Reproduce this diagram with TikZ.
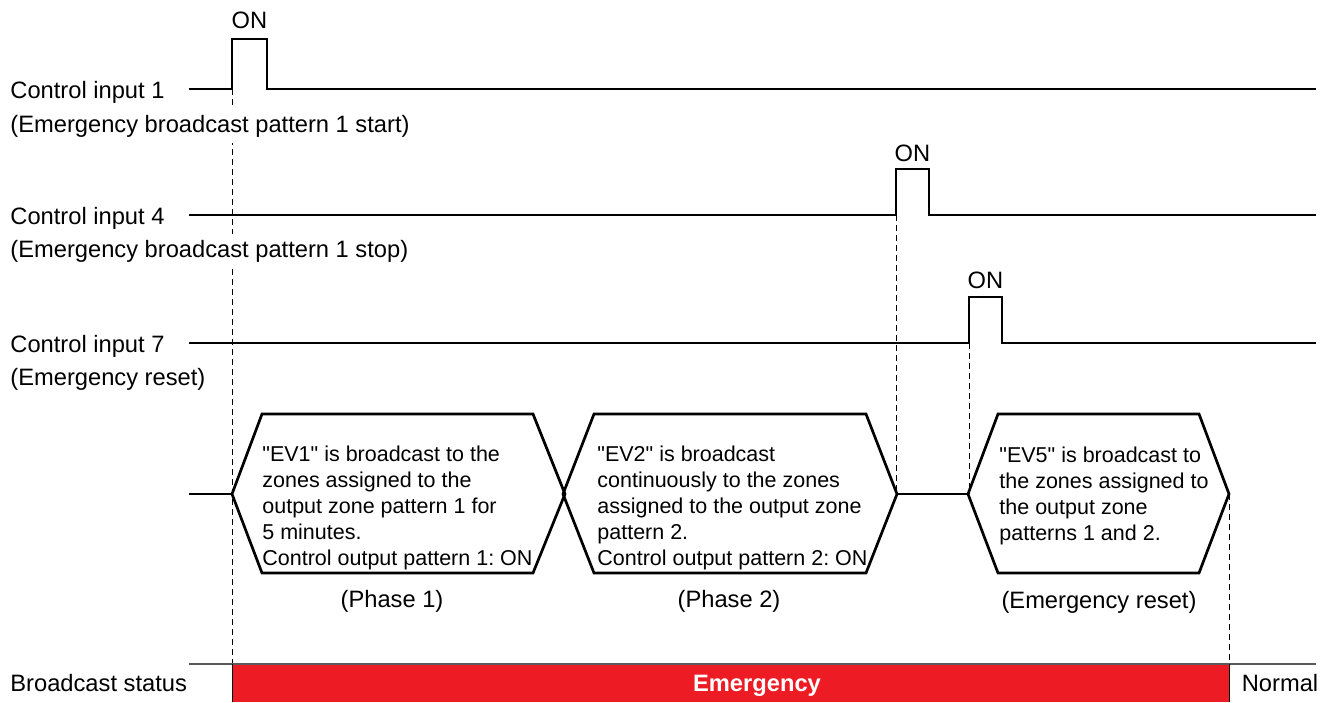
\documentclass[tikz,border=0pt]{standalone}
\usepackage{fontspec}
\setmainfont{Liberation Sans}[Ligatures=TeXOff]
\usepackage{xcolor}
\usetikzlibrary{positioning}
\definecolor{AlarmRed}{RGB}{237,28,36}
\definecolor{RuleGray}{RGB}{90,90,90}
\frenchspacing

\begin{document}
\begin{tikzpicture}[x=0.5pt, y=-0.5pt,
	signal/.style={line width=1.35pt, line join=miter},
	guide/.style={line width=0.5pt, dash pattern=on 3pt off 2pt},
	signame/.style={anchor=base west, inner xsep=0pt, inner ysep=3pt, fill=white, font=\fontsize{11.85}{14}\selectfont},
	onlabel/.style={anchor=base, inner sep=0pt, font=\fontsize{11.85}{14}\selectfont},
	phasetext/.style={anchor=north west, inner sep=0pt, align=left, font=\fontsize{10.75}{13}\selectfont},
	phasename/.style={anchor=base, inner sep=0pt, font=\fontsize{11.85}{14}\selectfont}]
	\useasboundingbox (0,0) rectangle (1333,702);
	\pgfmathsetmacro{\yA}{89}
	\pgfmathsetmacro{\yB}{215}
	\pgfmathsetmacro{\yC}{343}
	\pgfmathsetmacro{\yH}{494}
	\pgfmathsetmacro{\yT}{414}
	\pgfmathsetmacro{\yD}{573}
	\pgfmathsetmacro{\yS}{664}
	
	% pulse edges
	\coordinate (A1) at (232,\yA);
	\coordinate (A2) at (267,\yA);
	\coordinate (B1) at (896,\yB);
	\coordinate (B2) at (929,\yB);
	\coordinate (C1) at (969,\yC);
	\coordinate (C2) at (1002,\yC);
	
	% guide lines
	\draw[guide] (A1) -- (232,\yS);
	\draw[guide] (B1) -- (896,\yH);
	\draw[guide] (C1) -- (969,\yH);
	\draw[guide] (1229,\yH) -- (1229,\yS);
	
	% signal names
	\node[signame] (in1) at (10,98) {Control input 1};
	\node[signame] (in1x) at (10,132) {(Emergency broadcast pattern 1 start)};
	\node[signame] (in4) at (10,224) {Control input 4};
	\node[signame] (in4x) at (10,257) {(Emergency broadcast pattern 1 stop)};
	\node[signame] (in7) at (10,352) {Control input 7};
	\node[signame] (in7x) at (10,385) {(Emergency reset)};
	
	% control inputs
	\draw[signal] (189,\yA) -- (A1) -- (232,39) -- (267,39) -- (A2) -- (1316,\yA);
	\draw[signal] (189,\yB) -- (B1) -- (896,169) -- (929,169) -- (B2) -- (1316,\yB);
	\draw[signal] (189,\yC) -- (C1) -- (969,297) -- (1002,297) -- (C2) -- (1316,\yC);
	\node[onlabel] (on1) at (249.5,28) {ON};
	\node[onlabel] (on4) at (912.5,161) {ON};
	\node[onlabel] (on7) at (985.5,288) {ON};
	
	% phases
	\draw[signal] (189,\yH) -- (232,\yH);
	\draw[signal] (232,\yH) -- (262,\yT) -- (533,\yT) -- (565,\yH) -- (533,\yD) -- (262,\yD) -- cycle;
	\draw[signal] (563,\yH) -- (594,\yT) -- (866,\yT) -- (897,\yH) -- (866,\yD) -- (594,\yD) -- cycle;
	\draw[signal] (897,\yH) -- (968,\yH);
	\draw[signal] (968,\yH) -- (998,\yT) -- (1199,\yT) -- (1229,\yH) -- (1199,\yD) -- (998,\yD) -- cycle;
	\node[phasetext] (ev1) at (262,446) {"EV1" is broadcast to the\\zones assigned to the\\output zone pattern 1 for\\5 minutes.\\Control output pattern 1: ON};
	\node[phasetext] (ev2) at (597,446) {"EV2" is broadcast\\continuously to the zones\\assigned to the output zone\\pattern 2.\\Control output pattern 2: ON};
	\node[phasetext] (ev5) at (999,447) {"EV5" is broadcast to\\the zones assigned to\\the output zone\\patterns 1 and 2.};
	\node[phasename] (ph1) at (392,607) {(Phase 1)};
	\node[phasename] (ph2) at (729,607) {(Phase 2)};
	\node[phasename] (ph3) at (1099,608) {(Emergency reset)};
	
	% broadcast status
	\fill[AlarmRed] (232,\yS) rectangle (1229,702);
	\draw[RuleGray, line width=0.7pt] (189,\yS) -- (1316,\yS);
	\draw[line width=0.5pt] (232,\yS) -- (232,702);
	\draw[line width=0.5pt] (1229,\yS) -- (1229,702);
	\node[signame, fill=none] (status) at (10,691) {Broadcast status};
	\node[phasename, text=white, font=\fontsize{11.85}{14}\selectfont\bfseries] (emg) at (757,691) {Emergency};
	\node[phasename] (nrm) at (1280,691) {Normal};
\end{tikzpicture}
\end{document}
